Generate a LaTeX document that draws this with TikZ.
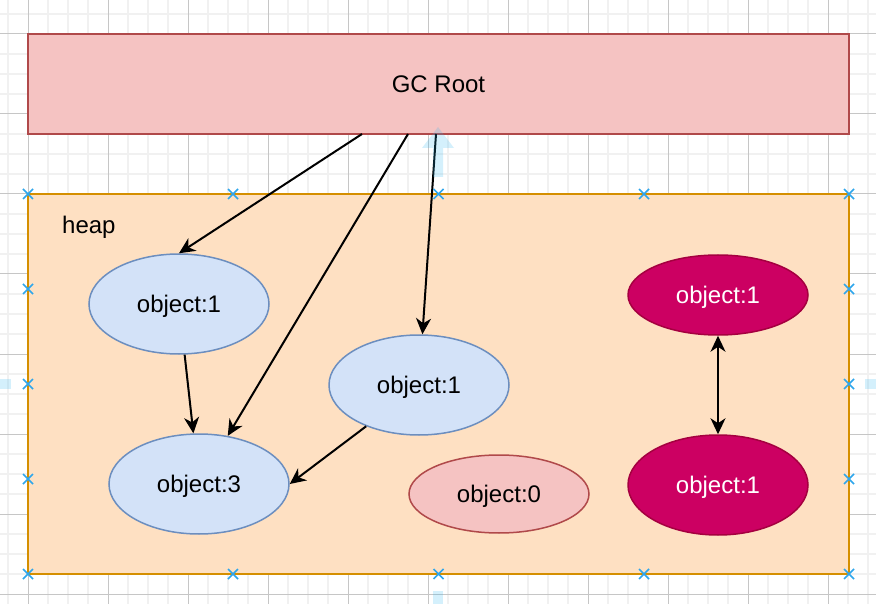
\documentclass[tikz,border=0pt]{standalone}
\usepackage{fontspec}
\setmainfont{Liberation Sans}
\usetikzlibrary{shapes.geometric,arrows.meta}

\definecolor{gridminor}{HTML}{F1F1F1}
\definecolor{gridmajor}{HTML}{C6C6C6}
\definecolor{rootfill}{HTML}{F5C3C2}
\definecolor{rootline}{HTML}{B0494A}
\definecolor{heapfill}{HTML}{FEE0C2}
\definecolor{heapline}{HTML}{D58F00}
\definecolor{objfill}{HTML}{D3E2F8}
\definecolor{objline}{HTML}{6C8EBF}
\definecolor{deadfill}{HTML}{CC0062}
\definecolor{deadline}{HTML}{A50040}
\definecolor{handle}{HTML}{2EA6EC}
\definecolor{hint}{HTML}{29B6F2}

\tikzset{
  txt/.style={font=\fontsize{24}{28}\selectfont},
  rootbox/.style={rectangle, draw=rootline, fill=rootfill, line width=1.8pt,
    minimum width=821pt, minimum height=100pt, inner sep=0pt, txt},
  heapbox/.style={rectangle, draw=heapline, fill=heapfill, line width=1.8pt,
    minimum width=821pt, minimum height=380pt, inner sep=0pt},
  obj/.style={ellipse, draw=objline, fill=objfill, line width=1.5pt,
    minimum width=180pt, minimum height=100pt, inner sep=0pt, txt, text depth=0pt},
  zero/.style={ellipse, draw=rootline, fill=rootfill, line width=1.5pt,
    minimum width=180pt, minimum height=78pt, inner sep=0pt, txt, text depth=0pt},
  cyc/.style={ellipse, draw=deadline, fill=deadfill, line width=1.5pt,
    minimum width=180pt, inner sep=0pt, txt, text depth=0pt, text=white},
  ref/.style={line width=2pt, -{Stealth[length=16pt, width=15pt, inset=5pt]}},
  mutual/.style={line width=2pt, {Stealth[length=16pt, width=15pt, inset=5pt]}-{Stealth[length=16pt, width=15pt, inset=5pt]}},
  xmark/.style={handle, line width=1.6pt},
  hintarrow/.style={fill=hint, fill opacity=0.2, draw=none},
}

\begin{document}
\begin{tikzpicture}[x=1pt, y=-1pt]
  \useasboundingbox (0,0) rectangle (876,604);
  \fill[white] (0,0) rectangle (876,604);

  % editor grid
  \foreach \gx in {8,48,68,88,128,148,168,208,228,248,288,308,328,368,388,408,448,468,488,528,548,568,608,628,648,688,708,728,768,788,808,848,868}
    \draw[gridminor, line width=2pt] (\gx,0) -- (\gx,604);
  \foreach \gy in {14,54,74,94,134,154,174,214,234,254,294,314,334,374,394,414,454,474,494,534,554,574}
    \draw[gridminor, line width=2pt] (0,\gy) -- (876,\gy);
  \foreach \gx in {28,108,188,268,348,428,508,588,668,748,828}
    \draw[gridmajor, line width=1pt] (\gx,0) -- (\gx,604);
  \foreach \gy in {34,114,194,274,354,434,514,594}
    \draw[gridmajor, line width=1pt] (0,\gy) -- (876,\gy);

  % containers
  \node[heapbox] (heap) at (438.5,384) {};
  \node[rootbox] (root) at (438.5,84) {GC Root};
  \node[txt, anchor=base west, inner sep=0pt] (heaplabel) at (62,234) {heap};

  % objects on the heap
  \node[obj] (a) at (179,304) {object:1};
  \node[obj] (b) at (199,484) {object:3};
  \node[obj] (c) at (419,385) {object:1};
  \node[zero] (d) at (499,494) {object:0};
  \node[cyc, minimum height=80pt] (e) at (718,295) {object:1};
  \node[cyc, minimum height=100pt] (f) at (718,485) {object:1};

  % points where the root references leave the root box
  \coordinate (r1) at (362,134);
  \coordinate (r2) at (408,134);
  \coordinate (r3) at (436,134);

  % references
  \draw[ref] (r1) -- (a.north);
  \draw[ref] (r2) -- (b);
  \draw[ref] (r3) -- (c);
  \draw[ref] (a) -- (b);
  \draw[ref] (c.218) -- (b.east);
  \draw[mutual] (e.south) -- (f.north);

  % faint connection hints
  \fill[hintarrow] (438,127) -- (454,148) -- (443,148) -- (443,177) -- (433,177) -- (433,148) -- (422,148) -- cycle;
  \fill[hintarrow] (433,591) rectangle (443,604);
  \fill[hintarrow] (0,379) rectangle (11,389);
  \fill[hintarrow] (865,379) rectangle (876,389);

  % selection handles of the heap box
  \foreach \hx/\hy in {28/194,233/194,438.5/194,644/194,849/194,
                        28/289,28/384,28/479,28/574,
                        849/289,849/384,849/479,849/574,
                        233/574,438.5/574,644/574}
    \draw[xmark] (\hx-5,\hy-5) -- (\hx+5,\hy+5) (\hx-5,\hy+5) -- (\hx+5,\hy-5);
\end{tikzpicture}
\end{document}
